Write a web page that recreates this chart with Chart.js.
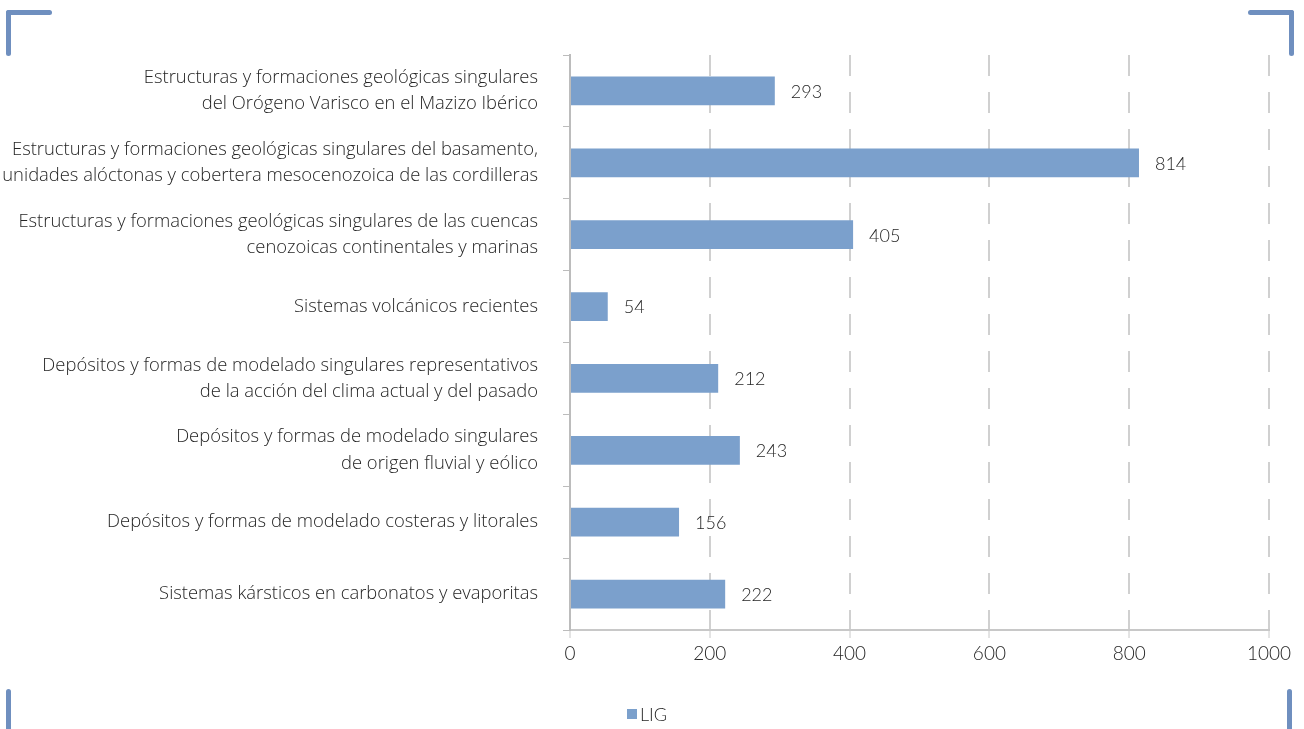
<html>
    <head>
        <meta name="viewport" content="width=device-width, initial-scale=1.0">
        <meta http-equiv="content-type" content="text/html; charset=UTF-8">
        <script src="https://cdn.jsdelivr.net/npm/chart.js"></script>
        <title>LIG</title>
        <style>
            html, body { margin: 0; padding: 0; background: #fff; overflow: hidden; }
            .chart-container { position: relative; width: 1304px; height: 729px; }
            .corner { position: absolute; background: #6f8fbf; border-radius: 3px; }
            #legend { position: absolute; left: 627px; top: 702px; font: 300 18px Lato, 'Open Sans', sans-serif;
                      color: #262626; display: flex; align-items: center; line-height: 24px; }
            #legend .box { display: inline-block; width: 10px; height: 10px; margin-right: 3px; }
        </style>
    </head>
    <body>
        <div class="chart-container">
            <canvas id="lig"></canvas>
            <div id="legend"></div>
            <!-- decorative corner brackets -->
            <div class="corner" style="left:6px; top:10px; width:46px; height:5px"></div>
            <div class="corner" style="left:6px; top:10px; width:5px; height:46px"></div>
            <div class="corner" style="left:1248px; top:10px; width:46px; height:5px"></div>
            <div class="corner" style="left:1289px; top:10px; width:5px; height:46px"></div>
            <div class="corner" style="left:6px; top:689px; width:5px; height:50px"></div>
            <div class="corner" style="left:1287px; top:689px; width:5px; height:50px"></div>
        </div>

        <script>
            // data
            const categories = [
                ['Estructuras y formaciones geológicas singulares', 'del Orógeno Varisco en el Mazizo Ibérico'],
                ['Estructuras y formaciones geológicas singulares del basamento,', 'unidades alóctonas y cobertera mesocenozoica de las cordilleras'],
                ['Estructuras y formaciones geológicas singulares de las cuencas', 'cenozoicas continentales y marinas'],
                'Sistemas volcánicos recientes',
                ['Depósitos y formas de modelado singulares representativos', 'de la acción del clima actual y del pasado'],
                ['Depósitos y formas de modelado singulares', 'de origen fluvial y eólico'],
                'Depósitos y formas de modelado costeras y litorales',
                'Sistemas kársticos en carbonatos y evaporitas'
            ];
            const ligValues = [293, 814, 405, 54, 212, 243, 156, 222];
            const seriesName = 'LIG';
            const xMin = 0, xMax = 1000, xStep = 200;

            const numFont = "Lato, 'Open Sans', sans-serif";
            const labelFont = "'Open Sans', Lato, sans-serif";
            const textColor = '#262626';
            const barColor = '#7ba0cc';

            // value labels to the right of each bar
            const valueLabels = {
                id: 'valueLabels',
                afterDatasetsDraw(chart) {
                    const ctx = chart.ctx;
                    ctx.save();
                    ctx.font = '300 18px ' + numFont;
                    ctx.fillStyle = textColor;
                    ctx.textAlign = 'left';
                    ctx.textBaseline = 'middle';
                    chart.getDatasetMeta(0).data.forEach((bar, i) => {
                        ctx.fillText(chart.data.datasets[0].data[i], bar.x + 16, bar.y + 1);
                    });
                    ctx.restore();
                }
            };

            var ctx = document.getElementById('lig');
            var chart = new Chart(ctx, {
                type: 'bar',
                data: {
                    labels: categories,
                    datasets: [{
                        label: seriesName,
                        data: ligValues,
                        backgroundColor: barColor,
                        borderWidth: 0,
                        categoryPercentage: 1.0,
                        barPercentage: 0.4
                    }]
                },
                plugins: [valueLabels],
                options: {
                    indexAxis: 'y',
                    animation: false,
                    responsive: true,
                    maintainAspectRatio: false,
                    layout: { padding: { top: 55, right: 35, left: 0, bottom: 44 } },
                    plugins: {
                        tooltip: { enabled: false },
                        legend: { display: false }
                    },
                    scales: {
                        x: {
                            min: xMin,
                            max: xMax,
                            ticks: {
                                stepSize: xStep,
                                color: textColor,
                                font: { family: numFont, size: 19, weight: '300' },
                                padding: 4,
                                callback: (v) => String(v)
                            },
                            grid: {
                                color: '#d0d0d0',
                                lineWidth: 2,
                                tickColor: '#c8c8c8',
                                tickLength: 8,
                                tickWidth: 1,
                                tickBorderDash: []
                            },
                            border: { display: true, color: '#c8c8c8', width: 2, dash: [21, 16] },
                            afterFit(scale) { scale.height = 55; }
                        },
                        y: {
                            ticks: {
                                color: textColor,
                                font: { family: labelFont, size: 18.4, weight: '300', lineHeight: 1.42 },
                                padding: 25
                            },
                            grid: {
                                drawOnChartArea: false,
                                tickColor: '#bcbcbc',
                                tickLength: 7
                            },
                            border: { display: true, color: '#bcbcbc', width: 2 },
                            afterFit(scale) { scale.width = 570; }
                        }
                    }
                }
            });

            // legend built from the dataset
            const legendEl = document.getElementById('legend');
            chart.data.datasets.forEach((ds) => {
                const box = document.createElement('span');
                box.className = 'box';
                box.style.background = ds.backgroundColor;
                legendEl.appendChild(box);
                legendEl.appendChild(document.createTextNode(ds.label));
            });
        </script>
    </body>
</html>
